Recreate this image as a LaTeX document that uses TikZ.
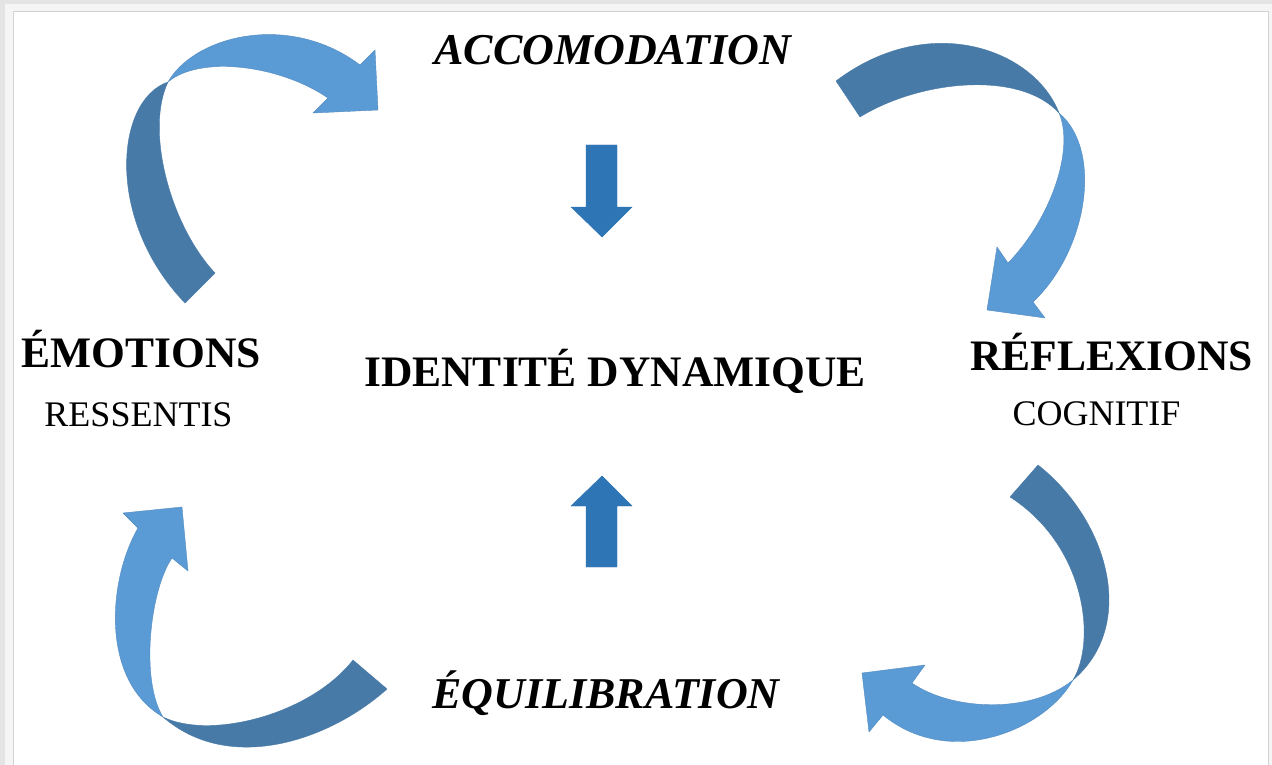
\documentclass[tikz,border=0pt]{standalone}
\usepackage{fontspec}
\setmainfont{Liberation Serif}
\definecolor{bandDark}{RGB}{72,122,168}
\definecolor{bandLight}{RGB}{91,155,213}
\definecolor{straightBlue}{RGB}{46,117,182}
\definecolor{shadowGray}{RGB}{228,228,228}
\tikzset{
  darkband/.style={fill=bandDark, draw=bandDark, line width=0.4pt, line join=round},
  lightband/.style={fill=bandLight, draw=bandLight!90!black, line width=0.4pt, line join=round},
  straightarrow/.style={fill=straightBlue, draw=straightBlue, line width=0.4pt},
  bigbold/.style={inner sep=0pt, anchor=base, font=\fontsize{43.5}{50}\selectfont\bfseries},
  bigbolditalic/.style={inner sep=0pt, anchor=base, font=\fontsize{44}{50}\selectfont\bfseries\itshape},
  subtext/.style={inner sep=0pt, anchor=base, font=\fontsize{36}{42}\selectfont}
}
\begin{document}
\begin{tikzpicture}[x=1pt,y=-1pt]
\useasboundingbox (0,0) rectangle (1272,765);
% frame and shadow
\fill[shadowGray] (0,0) rectangle (1272,765);
\fill[gray!8] (5,4) rectangle (1272,765);
\fill[white, draw=gray!35, line width=0.6pt] (13,11) rectangle (1268,768);

% texts
\node[bigbolditalic] (acc) at (613,65) {ACCOMODATION};
\node[bigbolditalic] (equ) at (606,708) {ÉQUILIBRATION};
\node[bigbold] (emo) at (141.5,367) {ÉMOTIONS};
\node[subtext] (res) at (138.5,426) {RESSENTIS};
\node[bigbold] (ref) at (1111.5,370) {RÉFLEXIONS};
\node[subtext] (cog) at (1096.5,425) {COGNITIF};
\node[bigbold] (idd) at (615,386) {IDENTITÉ DYNAMIQUE};

% arrow 1: top-left
\path[darkband] (185,303) -- (215,273) .. controls (170,225) and (145,130) .. (168,82)
  .. controls (115,100) and (105,220) .. (185,303) -- cycle;
\path[lightband] (168,82) .. controls (195,35) and (290,12) .. (360,65)
  -- (375,50) -- (378,110) -- (313,113) -- (328,98)
  .. controls (280,65) and (200,55) .. (168,82) -- cycle;

% arrow 2: top-right
\path[darkband] (836,81) -- (860,117) .. controls (920,80) and (1020,70) .. (1059,113)
  .. controls (1035,50) and (930,10) .. (836,81) -- cycle;
\path[lightband] (1059,113) .. controls (1103,150) and (1088,250) .. (1033,302)
  -- (1045,318) -- (987,310) -- (997,247) -- (1008,263)
  .. controls (1050,220) and (1075,150) .. (1059,113) -- cycle;

% arrow 3: bottom-right
\path[darkband] (1010,497) -- (1038,465) .. controls (1108,520) and (1138,625) .. (1073,680)
  .. controls (1097,640) and (1085,545) .. (1010,497) -- cycle;
\path[lightband] (1073,680) .. controls (1045,730) and (950,770) .. (883,715)
  -- (869,732) -- (862,673) -- (925,665) -- (912,683)
  .. controls (950,710) and (1030,715) .. (1073,680) -- cycle;

% arrow 4: bottom-left
\path[darkband] (353,660) -- (387,689) .. controls (330,740) and (230,775) .. (163,717)
  .. controls (210,740) and (310,715) .. (353,660) -- cycle;
\path[lightband] (163,717) .. controls (100,680) and (108,580) .. (138,528)
  -- (123,513) -- (182,507) -- (188,571) -- (172,558)
  .. controls (150,590) and (140,680) .. (163,717) -- cycle;

% straight arrows
\path[straightarrow] (586,145) -- (617,145) -- (617,207) -- (632,207) -- (602,237)
  -- (571,207) -- (586,207) -- cycle;
\path[straightarrow] (586,567) -- (617,567) -- (617,506) -- (632,506) -- (602,476)
  -- (571,506) -- (586,506) -- cycle;
\end{tikzpicture}
\end{document}
